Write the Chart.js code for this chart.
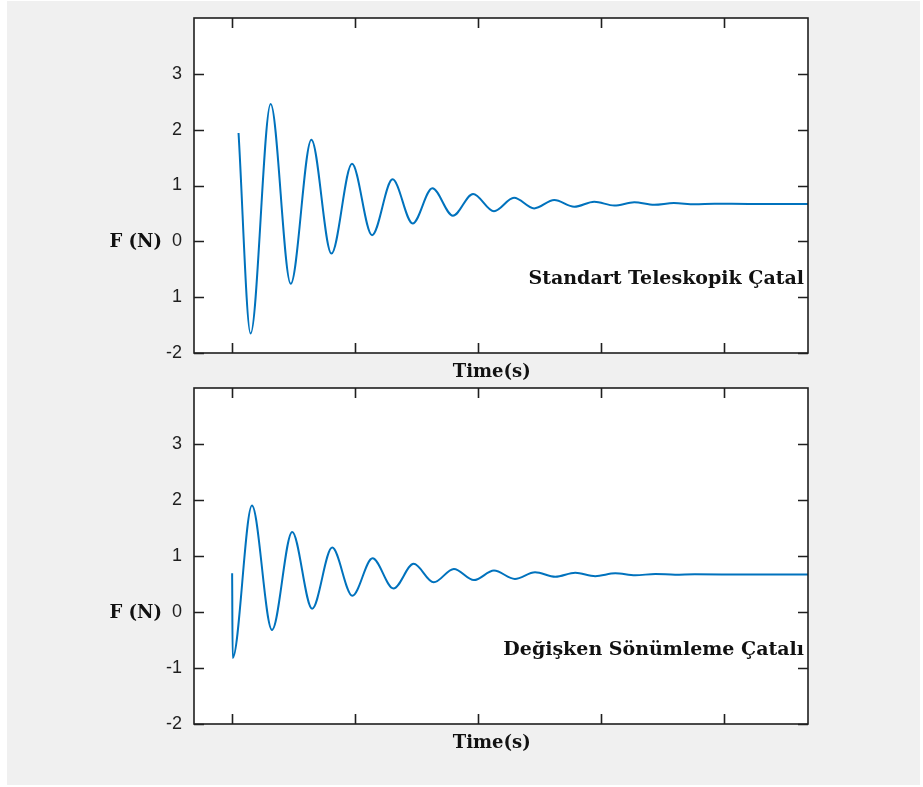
<!DOCTYPE html>
<html>
<head>
<meta charset="utf-8">
<script src="https://cdn.jsdelivr.net/npm/chart.js@4.4.1/dist/chart.umd.min.js"></script>
<style>
  html, body { margin: 0; padding: 0; background: #fff; }
  #page { position: relative; width: 923px; height: 787px; overflow: hidden; }
  #bg { position: absolute; left: 7px; top: 1px; width: 913px; height: 784px; background: #f0f0f0; }
  .box { position: absolute; left: 0; width: 923px; }
  #topBox { top: 0; height: 390px; }
  #botBox { top: 370px; height: 400px; }
</style>
</head>
<body>
<div id="page">
  <div id="bg"></div>
  <div class="box" id="topBox"><canvas id="topChart"></canvas></div>
  <div class="box" id="botBox"><canvas id="botChart"></canvas></div>
</div>
<script>
// Standart teleskopik çatal - kuvvet cevabı (tepe ve çukur noktaları)
const topTime  = [0.052, 0.150, 0.313, 0.476, 0.644, 0.807, 0.974, 1.137, 1.304, 1.467, 1.627, 1.794, 1.958, 2.128, 2.291, 2.454, 2.618, 2.780, 2.943, 3.106, 3.268, 3.430, 3.590, 3.760, 3.920, 4.200, 4.680];
const topForce = [1.94, -1.65, 2.46, -0.76, 1.82, -0.22, 1.39, 0.11, 1.11, 0.32, 0.95, 0.46, 0.85, 0.54, 0.78, 0.59, 0.74, 0.62, 0.71, 0.64, 0.70, 0.655, 0.685, 0.665, 0.675, 0.67, 0.67];

// Değişken sönümleme çatalı
const botTime  = [0.000, 0.004, 0.161, 0.324, 0.488, 0.650, 0.813, 0.977, 1.141, 1.311, 1.475, 1.638, 1.802, 1.965, 2.128, 2.298, 2.462, 2.626, 2.789, 2.951, 3.114, 3.276, 3.440, 3.600, 3.760, 4.200, 4.680];
const botForce = [0.69, -0.82, 1.90, -0.32, 1.43, 0.06, 1.15, 0.29, 0.96, 0.42, 0.86, 0.53, 0.77, 0.57, 0.74, 0.59, 0.71, 0.63, 0.70, 0.64, 0.69, 0.655, 0.68, 0.665, 0.672, 0.67, 0.67];

const xTickValues = [0, 1, 2, 3, 4];
const yTickValues = [-2, -1, 0, 1, 2, 3];
const topYLabels = ['-2', '1', '0', '1', '2', '3'];
const botYLabels = ['-2', '-1', '0', '1', '2', '3'];

const lineBlue = '#0072BD';
const axisColor = '#1f1f1f';
const serifFamily = '"DejaVu Serif", "Liberation Serif", serif';

// Çerçeve, içe dönük tikler ve etiketler
const matlabAxes = {
    id: 'matlabAxes',
    beforeDatasetsDraw(chart) {
        const { ctx, chartArea: a } = chart;
        ctx.save();
        ctx.fillStyle = '#fff';
        ctx.fillRect(a.left, a.top, a.right - a.left, a.bottom - a.top);
        ctx.restore();
    },
    afterDatasetsDraw(chart, args, opts) {
        const { ctx, chartArea: a, scales } = chart;
        const tl = 10;
        ctx.save();
        ctx.strokeStyle = axisColor;
        ctx.lineWidth = 1.6;
        ctx.strokeRect(a.left, a.top, a.right - a.left, a.bottom - a.top);
        ctx.beginPath();
        xTickValues.forEach(v => {
            const px = Math.round(scales.x.getPixelForValue(v)) + 0.5;
            ctx.moveTo(px, a.bottom); ctx.lineTo(px, a.bottom - tl);
            ctx.moveTo(px, a.top); ctx.lineTo(px, a.top + tl);
        });
        yTickValues.forEach(v => {
            const py = Math.round(scales.y.getPixelForValue(v)) + 0.5;
            ctx.moveTo(a.left, py); ctx.lineTo(a.left + tl, py);
            ctx.moveTo(a.right, py); ctx.lineTo(a.right - tl, py);
        });
        ctx.stroke();

        ctx.fillStyle = '#111';
        ctx.textBaseline = 'alphabetic';
        // y ekseni etiketi
        ctx.font = 'bold 18px ' + serifFamily;
        ctx.textAlign = 'right';
        ctx.fillText('F (N)', a.left - 32, scales.y.getPixelForValue(0) + 6);
        // x ekseni etiketi
        ctx.textAlign = 'center';
        ctx.fillText('Time(s)', a.left + (a.right - a.left) * 0.485, a.bottom + 24);
        // açıklama
        ctx.font = 'bold 19px ' + serifFamily;
        ctx.textAlign = 'right';
        ctx.fillText(opts.note, a.right - 4, scales.y.getPixelForValue(-0.77));
        ctx.restore();
    }
};

function makeChart(id, times, forces, yLabels, note, padTop, padBottom) {
    const pts = times.map((t, i) => ({ x: t, y: forces[i] }));
    return new Chart(document.getElementById(id), {
        type: 'line',
        data: {
            datasets: [{
                data: pts,
                borderColor: lineBlue,
                borderWidth: 2,
                pointRadius: 0,
                fill: false,
                cubicInterpolationMode: 'monotone'
            }]
        },
        options: {
            responsive: true,
            maintainAspectRatio: false,
            animation: false,
            layout: { padding: { left: 154, right: 115, top: padTop, bottom: padBottom } },
            plugins: {
                legend: { display: false },
                tooltip: { enabled: false },
                matlabAxes: { note: note }
            },
            scales: {
                x: {
                    type: 'linear',
                    min: -0.31, max: 4.68,
                    afterBuildTicks: s => { s.ticks = xTickValues.map(v => ({ value: v })); },
                    afterFit: s => { s.height = 0; s.paddingLeft = 0; s.paddingRight = 0; },
                    grid: { display: false },
                    border: { display: false },
                    ticks: { display: false }
                },
                y: {
                    min: -2, max: 4,
                    afterBuildTicks: s => { s.ticks = yTickValues.map(v => ({ value: v })); },
                    afterFit: s => { s.width = 40; s.paddingTop = 0; s.paddingBottom = 0; },
                    grid: { display: false, drawTicks: false },
                    border: { display: false },
                    ticks: {
                        padding: 12,
                        color: axisColor,
                        font: { family: '"Liberation Sans", Arial, sans-serif', size: 18 },
                        callback: (v, i) => yLabels[i]
                    }
                }
            }
        },
        plugins: [matlabAxes]
    });
}

makeChart('topChart', topTime, topForce, topYLabels, 'Standart Teleskopik Çatal', 18, 37);
makeChart('botChart', botTime, botForce, botYLabels, 'Değişken Sönümleme Çatalı', 18, 46);
</script>
</body>
</html>
